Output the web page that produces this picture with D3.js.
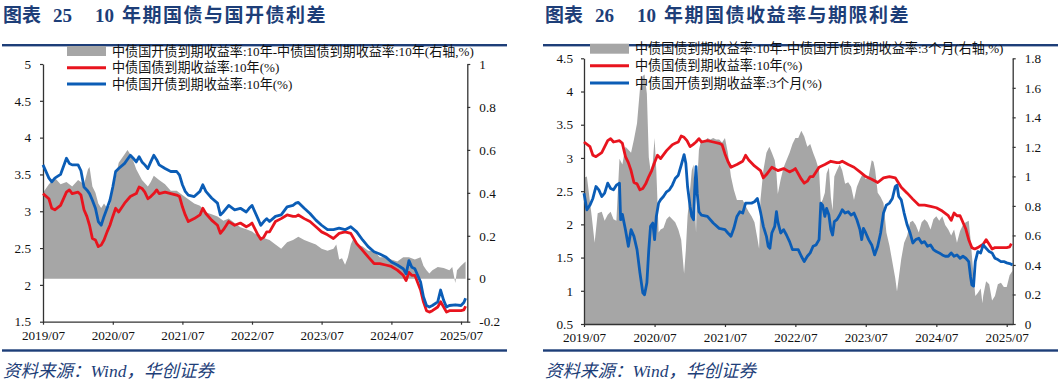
<!DOCTYPE html>
<html><head><meta charset="utf-8">
<script src="https://cdn.jsdelivr.net/npm/d3@7/dist/d3.min.js"></script>
<style>
html,body{margin:0;padding:0;background:#fff;}
svg{display:block;}
</style></head>
<body>
<svg id="chart" width="1058" height="384"></svg>
<script>
// ---------------- DATA ----------------
const xTickLabels = ["2019/07","2020/07","2021/07","2022/07","2023/07","2024/07","2025/07"];

// Panel 25 + 26 : 10Y CGB (red), Panel 25 : 10Y CDB (blue) — shared dates
const leftDates = ["2019-07-01","2019-08-01","2019-08-16","2019-09-01","2019-10-01","2019-11-01","2019-11-16","2019-12-01","2020-01-01","2020-01-16",
"2020-02-01","2020-02-16","2020-03-01","2020-03-16","2020-04-01","2020-04-16","2020-05-01","2020-05-16","2020-06-01","2020-06-16",
"2020-07-01","2020-07-16","2020-08-01","2020-09-01","2020-10-01","2020-10-16","2020-11-01","2020-11-16","2020-12-01","2020-12-16",
"2021-01-01","2021-01-16","2021-02-01","2021-02-16","2021-03-01","2021-04-01","2021-05-01","2021-06-01","2021-06-16","2021-07-01",
"2021-07-16","2021-08-01","2021-09-01","2021-10-01","2021-10-16","2021-11-01","2021-12-01","2022-01-01","2022-01-16","2022-02-01",
"2022-03-01","2022-04-01","2022-05-01","2022-06-01","2022-06-16","2022-07-01","2022-08-01","2022-08-16","2022-09-01","2022-09-16",
"2022-10-01","2022-11-01","2022-12-01","2023-01-01","2023-02-01","2023-02-16","2023-03-01","2023-04-01","2023-05-01","2023-06-01",
"2023-07-01","2023-08-01","2023-09-01","2023-10-01","2023-11-01","2023-12-01","2024-01-01","2024-02-01","2024-03-01","2024-04-01",
"2024-05-01","2024-06-01","2024-07-01","2024-08-01","2024-09-01","2024-09-16","2024-10-01","2024-10-16","2024-11-01","2024-12-01",
"2024-12-16","2025-01-01","2025-01-16","2025-02-01","2025-03-01","2025-03-16","2025-04-01","2025-04-16","2025-05-01","2025-06-01",
"2025-07-01","2025-07-16","2025-07-25"];

const cgb10 = [3.24,3.17,3.04,3.02,3.08,3.26,3.29,3.24,3.26,3.22,
3.02,2.93,2.81,2.63,2.61,2.52,2.54,2.61,2.72,2.81,
2.93,3.04,2.99,3.11,3.20,3.22,3.24,3.33,3.31,3.26,
3.17,3.20,3.24,3.29,3.24,3.26,3.24,3.22,3.20,3.06,
2.95,2.86,2.90,2.95,3.04,2.97,2.88,2.81,2.70,2.75,
2.86,2.81,2.84,2.79,2.81,2.84,2.68,2.62,2.65,2.72,
2.72,2.86,2.90,2.95,2.93,2.93,2.95,2.90,2.86,2.79,
2.72,2.68,2.63,2.70,2.72,2.70,2.56,2.47,2.38,2.29,
2.29,2.27,2.25,2.20,2.13,2.06,2.17,2.13,2.13,1.93,
1.77,1.65,1.63,1.65,1.70,1.77,1.70,1.63,1.65,1.65,
1.65,1.66,1.71];

const cdb10 = [3.63,3.45,3.40,3.45,3.50,3.72,3.65,3.63,3.63,3.55,
3.33,3.29,3.24,3.15,3.04,2.86,2.81,2.93,3.04,3.15,
3.33,3.54,3.58,3.65,3.76,3.72,3.67,3.74,3.67,3.63,
3.58,3.67,3.76,3.70,3.63,3.58,3.54,3.54,3.49,3.36,
3.27,3.22,3.20,3.27,3.36,3.27,3.18,3.11,2.95,2.99,
3.08,3.02,3.04,2.99,3.04,3.08,2.90,2.81,2.86,2.90,
2.86,2.93,2.95,3.06,3.08,3.11,3.12,3.04,2.97,2.88,
2.81,2.75,2.75,2.77,2.75,2.79,2.72,2.61,2.52,2.45,
2.42,2.38,2.31,2.27,2.22,2.15,2.33,2.24,2.22,2.04,
1.84,1.72,1.70,1.72,1.77,1.93,1.79,1.70,1.72,1.73,
1.72,1.76,1.82];

// Panel 25 gray: CDB10 - CGB10 spread (right axis)
const spreadDates = ["2019-07-01","2019-08-01","2019-09-01","2019-10-01","2019-11-01","2019-12-01","2020-01-01","2020-02-01","2020-02-22","2020-03-01",
"2020-03-16","2020-04-01","2020-04-16","2020-05-01","2020-05-16","2020-06-01","2020-06-16","2020-07-01","2020-07-16","2020-08-01",
"2020-09-01","2020-09-16","2020-10-01","2020-10-16","2020-11-01","2020-12-01","2021-01-01","2021-01-16","2021-02-01","2021-03-01",
"2021-04-01","2021-05-01","2021-06-01","2021-07-01","2021-08-01","2021-09-01","2021-10-01","2021-11-01","2021-12-01","2022-01-01",
"2022-02-01","2022-03-01","2022-04-01","2022-05-01","2022-06-01","2022-07-01","2022-08-01","2022-09-01","2022-10-01","2022-11-01",
"2022-12-01","2023-01-01","2023-02-01","2023-03-01","2023-04-01","2023-05-01","2023-06-01","2023-07-01","2023-08-01","2023-09-01",
"2023-09-16","2023-10-01","2023-10-16","2023-11-01","2023-11-16","2023-12-01","2023-12-16","2024-01-01","2024-02-01","2024-03-01",
"2024-04-01","2024-05-01","2024-06-01","2024-07-01","2024-08-01","2024-09-01","2024-10-01","2024-11-01","2024-12-01","2024-12-16",
"2025-01-01","2025-01-16","2025-02-01","2025-03-01","2025-04-01","2025-05-01","2025-05-16","2025-06-01","2025-06-10","2025-07-01",
"2025-07-25"];
const cdbCgbSpread = [0.40,0.44,0.47,0.44,0.45,0.43,0.46,0.44,0.51,0.52,
0.43,0.40,0.35,0.33,0.35,0.33,0.34,0.43,0.47,0.54,
0.58,0.60,0.58,0.55,0.51,0.46,0.43,0.45,0.48,0.46,
0.44,0.41,0.41,0.39,0.37,0.35,0.34,0.31,0.30,0.29,
0.27,0.28,0.26,0.24,0.23,0.22,0.20,0.19,0.18,0.16,
0.14,0.17,0.18,0.195,0.18,0.17,0.16,0.14,0.13,0.14,
0.16,0.09,0.095,0.065,0.10,0.16,0.19,0.16,0.15,0.13,
0.13,0.10,0.10,0.09,0.08,0.10,0.10,0.09,0.10,0.06,
0.04,0.025,0.04,0.055,0.05,0.04,0.055,-0.02,0.04,0.06,
0.08];

// Panel 26 blue: CDB 3M
const cdb3mDates = ["2019-07-01","2019-07-16","2019-08-01","2019-08-16","2019-09-01","2019-09-16","2019-10-01","2019-10-16","2019-11-01","2019-11-16",
"2019-12-01","2019-12-16","2020-01-01","2020-01-07","2020-01-16","2020-02-01","2020-02-16","2020-03-01","2020-03-16","2020-04-01",
"2020-04-16","2020-05-01","2020-05-10","2020-05-22","2020-06-01","2020-06-10","2020-06-22","2020-07-01","2020-07-10","2020-07-22",
"2020-08-01","2020-08-16","2020-09-01","2020-09-16","2020-10-01","2020-10-16","2020-11-01","2020-11-16","2020-12-01","2020-12-10",
"2020-12-19","2021-01-01","2021-01-10","2021-01-19","2021-01-25","2021-02-01","2021-02-07","2021-02-16","2021-03-01","2021-04-01",
"2021-05-01","2021-06-01","2021-07-01","2021-07-16","2021-08-01","2021-08-16","2021-09-01","2021-09-16","2021-10-01","2021-10-16",
"2021-11-01","2021-11-16","2021-12-01","2021-12-16","2022-01-01","2022-01-16","2022-02-01","2022-02-10","2022-02-19","2022-03-01",
"2022-03-16","2022-03-25","2022-04-01","2022-04-16","2022-05-01","2022-05-16","2022-06-01","2022-06-16","2022-07-01","2022-07-16",
"2022-08-01","2022-08-16","2022-09-01","2022-09-16","2022-10-01","2022-10-16","2022-11-01","2022-11-10","2022-11-19","2022-12-01",
"2022-12-10","2022-12-22","2023-01-01","2023-01-10","2023-01-19","2023-02-01","2023-02-16","2023-03-01","2023-03-16","2023-04-01",
"2023-04-16","2023-05-01","2023-05-16","2023-06-01","2023-06-10","2023-06-19","2023-07-01","2023-07-16","2023-08-01","2023-08-16",
"2023-09-01","2023-09-16","2023-10-01","2023-10-16","2023-11-01","2023-11-16","2023-12-01","2023-12-10","2023-12-19","2024-01-01",
"2024-01-16","2024-02-01","2024-02-16","2024-03-01","2024-03-16","2024-04-01","2024-04-16","2024-05-01","2024-05-16","2024-06-01",
"2024-06-16","2024-07-01","2024-07-16","2024-08-01","2024-08-16","2024-09-01","2024-09-16","2024-10-01","2024-10-16","2024-11-01",
"2024-11-16","2024-12-01","2024-12-16","2024-12-25","2025-01-01","2025-01-10","2025-01-19","2025-02-01","2025-02-16","2025-03-01",
"2025-03-16","2025-04-01","2025-04-16","2025-05-01","2025-05-16","2025-06-01","2025-06-16","2025-07-01","2025-07-16","2025-07-31"];
const cdb3m = [2.47,2.22,2.29,2.39,2.57,2.52,2.42,2.47,2.62,2.54,
2.52,2.59,2.62,2.07,2.15,1.92,1.67,1.92,1.82,1.62,
1.27,0.97,0.94,1.12,1.62,1.97,2.02,1.77,2.12,2.32,
2.37,2.42,2.49,2.52,2.59,2.69,2.74,2.89,3.05,2.92,
2.57,2.27,2.12,2.07,2.52,2.87,2.47,2.19,2.14,2.12,
2.02,1.94,1.92,1.87,1.82,1.94,2.12,2.19,2.17,2.32,
2.32,2.32,2.34,2.39,2.19,1.97,1.82,1.67,1.64,1.87,
1.97,2.19,2.04,1.87,1.92,1.84,1.74,1.62,1.62,1.62,
1.52,1.44,1.52,1.57,1.67,1.69,1.77,2.32,2.29,2.12,
2.24,2.14,1.92,1.84,2.04,2.07,2.14,2.22,2.17,2.19,
2.14,2.17,2.07,1.92,1.77,1.94,1.87,1.77,1.69,1.54,
1.67,1.87,2.17,2.29,2.32,2.39,2.57,2.59,2.42,2.37,
2.17,1.99,1.87,1.72,1.77,1.79,1.72,1.74,1.67,1.69,
1.62,1.59,1.57,1.54,1.52,1.52,1.57,1.52,1.54,1.49,
1.52,1.49,1.44,1.22,1.09,1.07,1.44,1.59,1.57,1.69,
1.64,1.59,1.57,1.49,1.47,1.44,1.44,1.42,1.41,1.39];

// Panel 26 gray: CGB10 - CDB3M term spread (right axis)
const termDates = ["2019-07-01","2019-07-16","2019-08-10","2019-08-25","2019-09-10","2019-10-01","2019-10-16","2019-11-01","2019-11-16","2019-12-01",
"2019-12-16","2020-01-01","2020-01-16","2020-02-01","2020-02-16","2020-03-01","2020-03-16","2020-04-01","2020-04-16","2020-05-01",
"2020-05-10","2020-05-22","2020-06-01","2020-06-10","2020-06-22","2020-07-01","2020-07-10","2020-07-22","2020-08-01","2020-08-16",
"2020-09-01","2020-09-16","2020-10-01","2020-10-16","2020-11-01","2020-11-16","2020-12-01","2020-12-10","2020-12-19","2021-01-01",
"2021-01-10","2021-01-19","2021-01-25","2021-02-01","2021-02-07","2021-02-16","2021-03-01","2021-03-16","2021-04-01","2021-04-16",
"2021-05-01","2021-05-16","2021-06-01","2021-06-16","2021-07-01","2021-07-16","2021-08-01","2021-08-16","2021-09-01","2021-09-16",
"2021-10-01","2021-10-16","2021-11-01","2021-11-16","2021-12-01","2021-12-16","2021-12-25","2022-01-01","2022-01-16","2022-02-01",
"2022-02-16","2022-03-01","2022-03-16","2022-03-25","2022-04-01","2022-04-16","2022-05-01","2022-05-16","2022-06-01","2022-06-16",
"2022-07-01","2022-07-16","2022-08-01","2022-08-16","2022-09-01","2022-09-16","2022-10-01","2022-10-16","2022-11-01","2022-11-10",
"2022-11-19","2022-12-01","2022-12-10","2022-12-22","2023-01-01","2023-01-10","2023-01-19","2023-02-01","2023-02-16","2023-03-01",
"2023-03-16","2023-04-01","2023-04-16","2023-05-01","2023-05-16","2023-06-01","2023-06-16","2023-07-01","2023-07-16","2023-08-01",
"2023-08-10","2023-08-19","2023-09-01","2023-09-16","2023-10-01","2023-10-16","2023-11-01","2023-11-16","2023-12-01","2023-12-10",
"2023-12-19","2024-01-01","2024-01-16","2024-02-01","2024-02-16","2024-03-01","2024-03-16","2024-04-01","2024-04-16","2024-05-01",
"2024-05-16","2024-06-01","2024-06-16","2024-07-01","2024-07-16","2024-08-01","2024-08-16","2024-09-01","2024-09-16","2024-10-01",
"2024-10-16","2024-11-01","2024-11-16","2024-12-01","2024-12-16","2024-12-25","2025-01-01","2025-01-10","2025-01-19","2025-02-01",
"2025-02-16","2025-02-25","2025-03-01","2025-03-16","2025-04-01","2025-04-16","2025-05-01","2025-05-16","2025-06-01","2025-06-16",
"2025-07-01","2025-07-16","2025-07-31"];
const termSpread = [0.99,1.00,0.73,0.55,0.75,0.76,0.70,0.74,0.76,0.71,
0.70,1.12,1.08,1.20,1.18,1.16,1.25,1.36,1.59,1.68,
1.69,1.56,1.13,1.04,1.10,1.26,1.04,0.62,0.64,0.65,
0.71,0.73,0.71,0.69,0.64,0.57,0.34,0.50,0.73,0.91,
1.04,1.08,0.84,0.62,0.95,1.18,1.25,1.23,1.26,1.25,
1.26,1.25,1.25,1.23,1.26,1.16,1.00,0.91,0.84,0.84,
0.84,0.80,0.76,0.73,0.69,0.58,0.51,0.84,1.04,1.16,
1.20,1.16,1.11,1.02,0.88,0.98,1.06,1.11,1.16,1.22,
1.26,1.26,1.31,1.27,1.20,1.22,1.16,1.11,1.04,0.82,
0.84,0.89,1.02,1.06,0.86,0.77,1.00,1.04,1.08,1.04,
0.95,0.96,0.93,0.84,0.93,0.98,1.02,0.98,1.00,1.11,
1.10,1.04,0.89,0.86,0.82,0.62,0.53,0.42,0.31,0.22,
0.31,0.44,0.55,0.60,0.69,0.70,0.67,0.62,0.69,0.71,
0.69,0.64,0.71,0.73,0.70,0.73,0.67,0.64,0.60,0.64,
0.55,0.63,0.67,0.69,0.70,0.58,0.47,0.33,0.19,0.21,
0.24,0.14,0.19,0.29,0.27,0.16,0.19,0.27,0.28,0.25,
0.25,0.33,0.36];

const ticksLeftA = [1.5,2,2.5,3,3.5,4,4.5,5];
const ticksRightA = [-0.2,0,0.2,0.4,0.6,0.8,1];
const ticksLeftB = [0.5,1,1.5,2,2.5,3,3.5,4,4.5];
const ticksRightB = [0,0.2,0.4,0.6,0.8,1,1.2,1.4,1.6,1.8];

const legendA = ["中债国开债到期收益率:10年-中债国债到期收益率:10年(右轴,%)","中债国债到期收益率:10年(%)","中债国开债到期收益率:10年(%)"];
const legendB = ["中债国债到期收益率:10年-中债国开债到期收益率:3个月(右轴,%)","中债国债到期收益率:10年(%)","中债国开债到期收益率:3个月(%)"];
const titleA = ["图表","25","10","年期国债与国开债利差"];
const titleB = ["图表","26","10","年期国债收益率与期限利差"];
const sourceText = "资料来源：Wind，华创证券";

// ---------------- STYLE ----------------
const RED = "#E8141E", BLUE = "#0B5DB6", GRAY = "#A6A6A6", NAVY = "#1D3E78", AXIS = "#333";
const SERIF = "'Liberation Serif','Times New Roman','Noto Sans CJK SC',serif";

const svg = d3.select("#chart");
const parse = d3.timeParse("%Y-%m-%d");
const xTicks = xTickLabels.map(d3.timeParse("%Y/%m"));

function drawPanel(o) {
  const g = svg.append("g");
  const x = d3.scaleTime().domain(o.xDomain.map(parse)).range([o.x0, o.x1]);
  const yL = d3.scaleLinear().domain(o.yLDomain).range([o.yb, o.yt]);
  const yR = d3.scaleLinear().domain(o.yRDomain).range([o.yb, o.yt]);

  // title
  const t = g.append("text").attr("y", 22).attr("fill", NAVY).attr("font-weight", "bold")
    .attr("font-size", 19).attr("font-family", SERIF);
  t.append("tspan").attr("x", o.ox + 3).text(o.title[0]);
  t.append("tspan").attr("x", o.ox + 53).text(o.title[1]);
  t.append("tspan").attr("x", o.ox + 95).text(o.title[2]);
  t.append("tspan").attr("x", o.ox + 122).attr("letter-spacing", 1.5).text(o.title[3]);
  g.append("rect").attr("x", o.ruleX0).attr("width", o.ruleX1 - o.ruleX0).attr("y", 44).attr("height", 2.4).attr("fill", NAVY);
  g.append("rect").attr("x", o.ruleX0).attr("width", o.ruleX1 - o.ruleX0).attr("y", 349.3).attr("height", 2.4).attr("fill", NAVY);
  g.append("text").attr("x", o.ox + 3).attr("y", 377).attr("fill", NAVY).attr("font-style", "italic")
    .attr("font-size", 17.5).attr("font-family", SERIF).text(sourceText);

  // gray area (right axis)
  const aData = d3.zip(o.areaDates.map(parse), o.areaVals);
  g.append("path").datum(aData)
    .attr("d", d3.area().x(d => x(d[0])).y0(yR(0)).y1(d => yR(d[1])))
    .attr("fill", GRAY);

  // axes
  const ax = d3.axisBottom(x).tickValues(xTicks).tickFormat(d3.timeFormat("%Y/%m"))
    .tickSizeInner(3).tickSizeOuter(0).tickPadding(6);
  const axL = d3.axisLeft(yL).tickValues(o.ticksL).tickFormat(String).tickSizeInner(3).tickSizeOuter(0).tickPadding(o.padL);
  const axR = d3.axisRight(yR).tickValues(o.ticksR).tickFormat(String).tickSizeInner(3).tickSizeOuter(0).tickPadding(o.padR);
  const gx = g.append("g").attr("transform", `translate(0,${o.yb})`).call(ax);
  const gl = g.append("g").attr("transform", `translate(${o.x0},0)`).call(axL);
  const gr = g.append("g").attr("transform", `translate(${o.x1},0)`).call(axR);
  [gx, gl, gr].forEach(a => {
    a.attr("font-family", SERIF).attr("font-size", 13.2);
    a.selectAll(".domain").attr("stroke", AXIS).attr("stroke-width", 1.3);
    a.selectAll(".tick line").attr("stroke", AXIS).attr("stroke-width", 1.2);
    a.selectAll(".tick text").attr("fill", "#111");
  });

  // lines
  const line = d3.line().x(d => x(d[0])).y(d => yL(d[1]));
  g.append("path").datum(d3.zip(o.redDates.map(parse), o.redVals)).attr("d", line)
    .attr("fill", "none").attr("stroke", RED).attr("stroke-width", 2.8).attr("stroke-linejoin", "round");
  g.append("path").datum(d3.zip(o.blueDates.map(parse), o.blueVals)).attr("d", line)
    .attr("fill", "none").attr("stroke", BLUE).attr("stroke-width", 2.8).attr("stroke-linejoin", "round");

  // legend
  const lg = g.append("g").attr("font-family", SERIF).attr("font-size", 13.1).attr("fill", "#111");
  const cols = [GRAY, RED, BLUE];
  o.legend.forEach((txt, i) => {
    const yy = o.legY[i];
    if (i === 0) lg.append("rect").attr("x", o.legX).attr("y", yy - 5).attr("width", 39).attr("height", 10).attr("fill", GRAY);
    else lg.append("line").attr("x1", o.legX).attr("x2", o.legX + 39).attr("y1", yy).attr("y2", yy)
      .attr("stroke", cols[i]).attr("stroke-width", 3);
    lg.append("text").attr("x", o.legX + 45).attr("y", yy + 4.5).text(txt);
  });
}

drawPanel({
  ox: 0, ruleX0: 2, ruleX1: 507, title: titleA,
  xDomain: ["2019-07-01", "2025-08-03"], x0: 43, x1: 467.3,
  yb: 321.7, yt: 64, yLDomain: [1.5, 5], yRDomain: [-0.2, 1],
  ticksL: ticksLeftA, ticksR: ticksRightA, padL: 9, padR: 9,
  areaDates: spreadDates, areaVals: cdbCgbSpread,
  redDates: leftDates, redVals: cgb10, blueDates: leftDates, blueVals: cdb10,
  legend: legendA, legX: 67, legY: [51, 67.7, 84]
});
drawPanel({
  ox: 542, ruleX0: 543, ruleX1: 1058, title: titleB,
  xDomain: ["2019-07-01", "2025-08-01"], x0: 584, x1: 1012.7,
  yb: 324, yt: 58.3, yLDomain: [0.5, 4.5], yRDomain: [0, 1.8],
  ticksL: ticksLeftB, ticksR: ticksRightB, padL: 8, padR: 9,
  areaDates: termDates, areaVals: termSpread,
  redDates: leftDates, redVals: cgb10, blueDates: cdb3mDates, blueVals: cdb3m,
  legend: legendB, legX: 590, legY: [48.7, 65.7, 83]
});
</script>
</body></html>
